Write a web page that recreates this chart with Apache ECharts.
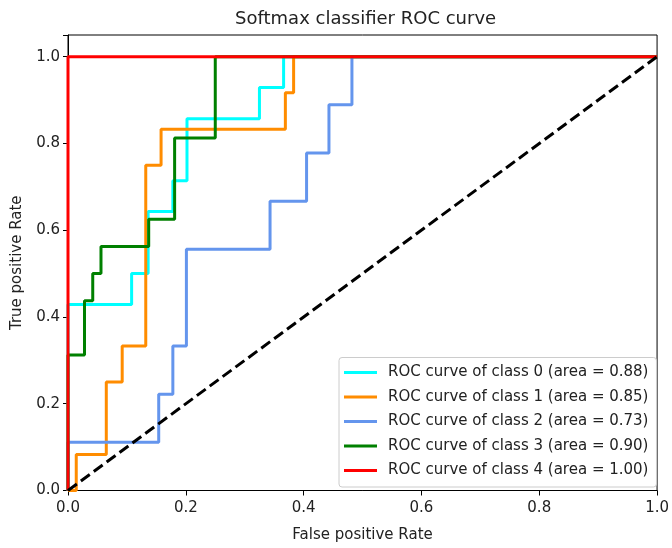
<!DOCTYPE html>
<html>
<head>
<meta charset="utf-8">
<script src="https://cdn.jsdelivr.net/npm/echarts@6/dist/echarts.min.js"></script>
<style>
html,body{margin:0;padding:0;background:#fff;}
#main{width:672px;height:548px;}
</style>
</head>
<body>
<div id="main"></div>
<script>
// ROC points (false positive rate / true positive rate)
const fpr0 = [0, 0, 0.108, 0.108, 0.136, 0.136, 0.178, 0.178, 0.202, 0.202, 0.325, 0.325, 0.366, 0.366, 1];
const tpr0 = [0, 0.429, 0.429, 0.5, 0.5, 0.643, 0.643, 0.714, 0.714, 0.857, 0.857, 0.929, 0.929, 1, 1];

const fpr1 = [0, 0.014, 0.014, 0.065, 0.065, 0.092, 0.092, 0.132, 0.132, 0.158, 0.158, 0.369, 0.369, 0.383, 0.383, 1];
const tpr1 = [0, 0, 0.083, 0.083, 0.25, 0.25, 0.333, 0.333, 0.75, 0.75, 0.833, 0.833, 0.917, 0.917, 1, 1];

const fpr2 = [0, 0, 0.154, 0.154, 0.178, 0.178, 0.201, 0.201, 0.343, 0.343, 0.405, 0.405, 0.443, 0.443, 0.482, 0.482, 1];
const tpr2 = [0, 0.111, 0.111, 0.222, 0.222, 0.333, 0.333, 0.556, 0.556, 0.667, 0.667, 0.778, 0.778, 0.889, 0.889, 1, 1];

const fpr3 = [0, 0, 0.028, 0.028, 0.042, 0.042, 0.056, 0.056, 0.137, 0.137, 0.181, 0.181, 0.25, 0.25, 1];
const tpr3 = [0, 0.3125, 0.3125, 0.4375, 0.4375, 0.5, 0.5, 0.5625, 0.5625, 0.625, 0.625, 0.8125, 0.8125, 1, 1];

const fpr4 = [0, 0, 1];
const tpr4 = [0, 1, 1];

const chanceX = [0, 1];
const chanceY = [0, 1];

const classNames = [
  'ROC curve of class 0 (area = 0.88)',
  'ROC curve of class 1 (area = 0.85)',
  'ROC curve of class 2 (area = 0.73)',
  'ROC curve of class 3 (area = 0.90)',
  'ROC curve of class 4 (area = 1.00)'
];
const classColors = ['#00ffff', '#ff8c00', '#6495ed', '#008000', '#ff0000'];

const xTicks = [0, 0.2, 0.4, 0.6, 0.8, 1.0];

const FONT = 'DejaVu Sans';
const TXT = '#222';

function pairs(xs, ys) { return xs.map((x, i) => [x, ys[i]]); }

const curves = [[fpr0, tpr0], [fpr1, tpr1], [fpr2, tpr2], [fpr3, tpr3], [fpr4, tpr4]];

const series = curves.map((c, i) => ({
  name: classNames[i],
  type: 'line',
  data: pairs(c[0], c[1]),
  symbol: 'none',
  color: classColors[i],
  lineStyle: { width: 3, color: classColors[i] },
  clip: true,
  animation: false,
  z: 2 + i
}));
series.push({
  name: 'chance',
  type: 'line',
  data: pairs(chanceX, chanceY),
  symbol: 'none',
  color: '#000',
  lineStyle: { width: 3, color: '#000', type: [11, 5] },
  clip: true,
  animation: false,
  z: 10
});

const chart = echarts.init(document.getElementById('main'), null, { renderer: 'canvas' });
chart.setOption({
  animation: false,
  backgroundColor: '#fff',
  textStyle: { fontFamily: FONT },
  title: {
    text: 'Softmax classifier ROC curve',
    left: 365.6,
    top: 10,
    padding: 0,
    textAlign: 'center',
    textStyle: { fontFamily: FONT, fontSize: 18, fontWeight: 'normal', color: TXT }
  },
  grid: {
    left: 68, right: 9, top: 35, bottom: 53,
    show: true, borderColor: '#000', borderWidth: 1, backgroundColor: 'transparent'
  },
  legend: {
    data: classNames,
    orient: 'vertical',
    left: 339,
    top: 357.5,
    icon: 'rect',
    itemWidth: 33,
    itemHeight: 3,
    itemGap: 7.5,
    padding: [6.5, 8, 8, 5],
    backgroundColor: 'rgba(255,255,255,0.85)',
    borderColor: '#cccccc',
    borderWidth: 1,
    borderRadius: 3,
    textStyle: { fontFamily: FONT, fontSize: 15, color: TXT, lineHeight: 17, padding: [0, 0, 0, 6] }
  },
  xAxis: {
    type: 'value',
    min: 0, max: 1, interval: 0.2,
    name: 'False positive Rate',
    nameLocation: 'middle',
    nameGap: 45,
    nameTextStyle: { fontFamily: FONT, fontSize: 15, color: TXT, verticalAlign: 'middle' },
    axisLine: { show: true, onZero: false, lineStyle: { color: '#000', width: 1 } },
    axisTick: { show: true, length: 5, lineStyle: { color: '#000' } },
    axisLabel: { fontFamily: FONT, fontSize: 15, color: TXT, margin: 10,
      formatter: v => xTicks.some(t => Math.abs(t - v) < 1e-9) ? v.toFixed(1) : '' },
    splitLine: { show: false }
  },
  yAxis: {
    type: 'value',
    min: 0, max: 1.05, interval: 0.2,
    name: 'True positive Rate',
    nameLocation: 'middle',
    nameGap: 51,
    nameTextStyle: { fontFamily: FONT, fontSize: 15, color: TXT, verticalAlign: 'middle' },
    axisLine: { show: true, onZero: false, lineStyle: { color: '#000', width: 1 } },
    axisTick: { show: true, length: 5, lineStyle: { color: '#000' } },
    axisLabel: { fontFamily: FONT, fontSize: 15, color: TXT, margin: 8,
      formatter: v => v > 1.0001 ? '' : v.toFixed(1) },
    splitLine: { show: false }
  },
  series: series
});
</script>
</body>
</html>
